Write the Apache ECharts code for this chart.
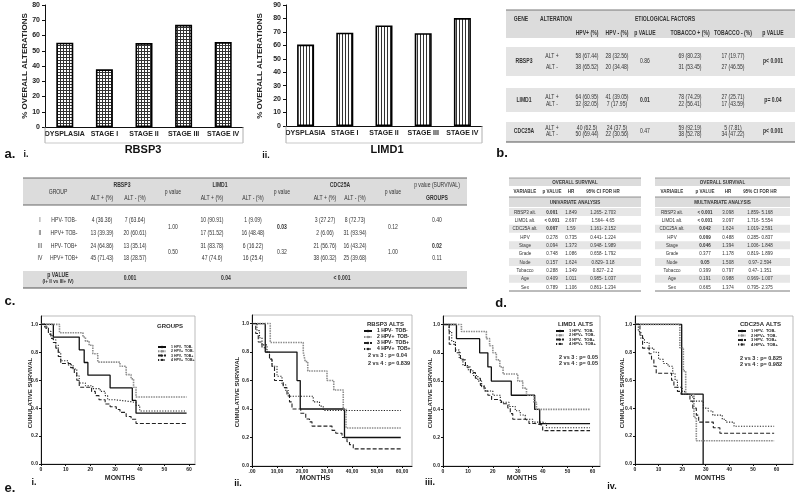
<!DOCTYPE html>
<html><head><meta charset="utf-8">
<script src="https://cdn.jsdelivr.net/npm/echarts@6/dist/echarts.min.js"></script>
<style>html,body{margin:0;padding:0;background:#fff}#c{width:795px;height:492px}</style>
</head><body><div id="c"></div>
<script>
// ---------- DATA ----------
const stageCategories = ['DYSPLASIA','STAGE I','STAGE II','STAGE III','STAGE IV'];
const rbsp3Alterations = [55.3, 37.8, 55, 67, 55.7];
const limd1Alterations = [60.6, 69.4, 74.8, 69, 80.3];

// table b
const bGenes = ['RBSP3','LIMD1','CDC25A'];
const bHpvPos = [['58 (67.44)','38 (65.52)'],['64 (60.95)','32 (82.05)'],['40 (62.5)','50 (69.44)']];
const bHpvNeg = [['28 (32.56)','20 (34.48)'],['41 (39.05)','7 (17.95)'],['24 (37.5)','22 (30.56)']];
const bHpvP = ['0.86','0.01','0.47'];
const bTobPos = [['69 (80.23)','31 (53.45)'],['78 (74.29)','22 (56.41)'],['59 (92.19)','38 (52.78)']];
const bTobNeg = [['17 (19.77)','27 (46.55)'],['27 (25.71)','17 (43.59)'],['5 (7.81)','34 (47.22)']];
const bTobP = ['p< 0.001','p= 0.04','p< 0.001'];

// table c
const cGroupNum = ['I','II','III','IV'];
const cGroupName = ['HPV- TOB-','HPV+ TOB-','HPV- TOB+','HPV+ TOB+'];
const cRbsp3 = [['4 (36.36)','7 (63.64)'],['13 (39.39)','20 (60.61)'],['24 (64.86)','13 (35.14)'],['45 (71.43)','18 (28.57)']];
const cLimd1 = [['10 (90.91)','1 (9.09)'],['17 (51.52)','16 (48.48)'],['31 (83.78)','6 (16.22)'],['47 (74.6)','16 (25.4)']];
const cCdc25a = [['3 (27.27)','8 (72.73)'],['2 (6.06)','31 (93.94)'],['21 (56.76)','16 (43.24)'],['38 (60.32)','25 (39.68)']];
const cPRbsp3 = ['1.00','0.50'];
const cPLimd1 = ['0.03','0.32'];
const cPCdc25a = ['0.12','1.00'];
const cSurvival = ['0.40','','0.02','0.11'];
const cOverallP = ['0.001','0.04','< 0.001'];

// table d
const dVariables = ['RBSP3 alt.','LIMD1 alt.','CDC25A alt.','HPV','Stage','Grade','Node','Tobacco','Age','Sex'];
const dUniP = ['0.001','< 0.001','0.007','0.278','0.094','0.748','0.157','0.288','0.409','0.789'];
const dUniHR = ['1.849','2.697','1.59','0.735','1.373','1.086','1.624','1.349','1.011','1.106'];
const dUniCI = ['1.265- 2.703','1.564- 4.65','1.161- 2.152','0.441- 1.224','0.948- 1.989','0.658- 1.792','0.829- 3.18','0.827- 2.2','0.985- 1.037','0.861- 1.234'];
const dUniBold = [1,1,1,0,0,0,0,0,0,0];
const dMultiP = ['< 0.001','< 0.001','0.042','0.009','0.046','0.377','0.05','0.399','0.191','0.665'];
const dMultiHR = ['3.098','3.097','1.624','0.488','1.394','1.178','1.508','0.797','0.988','1.374'];
const dMultiCI = ['1.859- 5.168','1.716- 5.554','1.019- 2.591','0.285- 0.837','1.006- 1.848','0.819- 1.899','0.97- 2.594','0.47- 1.351','0.969- 1.007','0.795- 2.375'];
const dMultiBold = [1,1,1,1,1,0,1,0,0,0];

// e: Kaplan-Meier curves [month, cumulative survival]
const kmNames = ['1 HPV-  TOB-','2 HPV+  TOB-','3 HPV-  TOB+','4 HPV+  TOB+'];
const kmGroups1 = [[0,1],[5,0.909],[15.5,0.818],[17.5,0.727],[19,0.636],[28,0.545],[37,0.455],[38.5,0.364],[59,0.364]];
const kmGroups2 = [[0,1],[7.5,0.94],[17,0.91],[18,0.88],[19.5,0.85],[21,0.79],[23,0.73],[32,0.70],[34.5,0.64],[36.5,0.61],[37.5,0.55],[38.5,0.48],[59,0.48]];
const kmGroups3 = [[0,1],[2,0.97],[3,0.93],[4,0.9],[5,0.87],[6,0.83],[7,0.77],[8,0.72],[12,0.69],[13.5,0.65],[14.5,0.6],[15.5,0.55],[20.5,0.52],[22,0.49],[23.5,0.46],[26,0.43],[28,0.41],[30.5,0.39],[32,0.37],[34.5,0.34],[36.5,0.32],[38.5,0.29],[59,0.29]];
const kmGroups4 = [[0,1],[1.5,0.98],[3,0.95],[4,0.92],[5,0.89],[6,0.85],[7,0.8],[8,0.74],[11,0.71],[13,0.68],[14.5,0.63],[15.5,0.58],[18,0.56],[21,0.54],[24,0.52],[26,0.49],[27,0.46],[30,0.45],[35,0.44],[38.5,0.42],[40,0.38],[59,0.38]];

const kmRbsp31 = [[0,1],[5.3,0.8],[18,0.6],[19.3,0.4],[37,0.2],[59.5,0.2]];
const kmRbsp32 = [[0,1],[7.3,0.867],[20.5,0.8],[21.3,0.733],[22.3,0.667],[30,0.6],[32.7,0.533],[36.5,0.4],[37.6,0.267],[59.5,0.267]];
const kmRbsp33 = [[0,1],[1.5,0.93],[2.5,0.87],[4,0.83],[5.5,0.8],[7,0.75],[8,0.7],[9,0.6],[12.5,0.55],[14,0.5],[15,0.45],[16,0.4],[19.5,0.37],[21.5,0.33],[23,0.31],[24,0.28],[32,0.25],[33.5,0.23],[36,0.2],[38,0.17],[39,0.15],[40.5,0.12],[59.5,0.12]];
const kmRbsp34 = [[0,1],[2,0.95],[3,0.9],[4,0.85],[6,0.8],[7,0.75],[8,0.7],[10,0.63],[12,0.57],[13.5,0.53],[14.5,0.49],[24.5,0.45],[27,0.42],[28.5,0.39],[59.5,0.39]];

const kmLimd11 = [[0,1],[5.4,0.9],[14.7,0.8],[18,0.7],[19.4,0.6],[27.4,0.5],[36.8,0.4],[38.8,0.3],[59,0.3]];
const kmLimd12 = [[0,1],[7.4,0.95],[17.4,0.9],[18.7,0.85],[20,0.8],[21.4,0.75],[22.8,0.7],[24.1,0.65],[30,0.6],[32,0.55],[33.5,0.5],[36.5,0.45],[37.5,0.4],[59,0.4]];
const kmLimd13 = [[0,1],[2.5,0.86],[5,0.8],[7,0.75],[9,0.7],[11,0.66],[13,0.62],[15,0.57],[16.5,0.53],[18,0.5],[19.5,0.47],[22,0.46],[23.5,0.44],[26,0.41],[27,0.37],[28,0.33],[33,0.32],[34.5,0.3],[37,0.29],[40,0.25],[59,0.25]];
const kmLimd14 = [[0,1],[2.4,0.95],[3.5,0.88],[5,0.82],[6.5,0.76],[8,0.71],[10,0.68],[12,0.64],[14,0.6],[15.5,0.56],[17,0.53],[20,0.5],[23,0.45],[26.5,0.42],[29,0.39],[31,0.36],[33,0.33],[36,0.31],[40,0.3],[41.5,0.27],[59,0.27]];

const kmCdc25a1 = [[0,1],[19.8,0.5],[28.9,0]];
const kmCdc25a2 = [[0,1],[19,0.833],[20.5,0.667],[21.5,0.5],[25,0.333],[26,0.167],[59,0.167]];
const kmCdc25a3 = [[0,1],[2.1,0.92],[3.2,0.83],[6,0.79],[7,0.75],[8,0.7],[9,0.65],[15.5,0.6],[16.5,0.55],[18,0.52],[19.5,0.5],[23.3,0.45],[24.5,0.4],[26,0.35],[27,0.3],[33.2,0.26],[36,0.22],[59,0.22]];
const kmCdc25a4 = [[0,1],[1.4,0.95],[2.5,0.9],[4,0.87],[6,0.83],[8,0.8],[10,0.75],[12,0.72],[14,0.7],[16,0.65],[17,0.6],[18,0.55],[20,0.52],[21,0.5],[24,0.48],[25,0.45],[29,0.4],[31,0.38],[33,0.35],[37,0.32],[38.5,0.3],[42,0.27],[59,0.27]];

// ---------- helpers ----------
const FN = '"Liberation Sans",Arial,sans-serif';
const FA = '"Liberation Sans",Arial,sans-serif';
function T(x, y, text, size, o) {
  o = o || {};
  const al = o.align || 'center';
  return {type:'text', x:x, y:y, rotation:o.rot||0, scaleX:o.sx||1, silent:true, z:5,
    style:{text:text, font:(o.bold?'bold ':'')+size+'px '+(o.family||FN), fill:o.fill||'#2a2a2a',
      align:al, verticalAlign:'middle', textAlign:al, textVerticalAlign:'middle'}};
}
// narrow table text (condensed look)
function N(x, y, text, size, o) { o = Object.assign({sx:0.78, fill:'#333'}, o||{}); return T(x, y, text, size, o); }
function R(x, y, w, h, fill) {
  return {type:'rect', silent:true, z:1, shape:{x:x,y:y,width:w,height:h}, style:{fill:fill}};
}
function L(x1, y1, x2, y2, stroke, w) {
  return {type:'line', silent:true, z:3, shape:{x1:x1,y1:y1,x2:x2,y2:y2}, style:{stroke:stroke||'#444', lineWidth:w||1}};
}
function pattern(kind) {
  const c = document.createElement('canvas');
  c.width = 3; c.height = 3;
  const g = c.getContext('2d');
  g.fillStyle = '#fff'; g.fillRect(0,0,3,3);
  g.fillStyle = '#333';
  if (kind === 'grid') { g.fillRect(0,0,3,1); g.fillRect(0,0,1,3); }
  else { g.fillRect(0,0,1,3); }
  return {image:c, repeat:'repeat'};
}

const G = [];
// ---------- panel a decorations ----------
G.push(T(25, 66, '% OVERALL ALTERATIONS', 8, {bold:1, family:FA, rot:Math.PI/2, fill:'#222'}));
G.push(T(260, 66, '% OVERALL ALTERATIONS', 8, {bold:1, family:FA, rot:Math.PI/2, fill:'#222'}));
G.push(L(45,127,45,143,'#999',0.8), L(243,127,243,143,'#999',0.8), L(45,143,243,143,'#bbb',0.8));
G.push(L(286,126,286,143,'#999',0.8), L(482,126,482,143,'#999',0.8), L(286,143,482,143,'#bbb',0.8));
G.push(T(143,150,'RBSP3',11,{bold:1,family:FA,fill:'#111'}));
G.push(T(387,150,'LIMD1',11,{bold:1,family:FA,fill:'#111'}));
G.push(T(10,154,'a.',13,{bold:1,family:FA,fill:'#111'}), T(26,155,'i.',9,{bold:1,family:FA,fill:'#111'}));
G.push(T(266,156,'ii.',9,{bold:1,family:FA,fill:'#111'}));

// ---------- table b ----------
(function(){
  const x0 = 506, x1 = 795;
  G.push(R(x0,10,x1-x0,28,'#dcdcdc'), L(x0,10,x1,10,'#777',1));
  const cols = [587,617,645,690,733,773];
  G.push(N(521,19,'GENE',6.5,{bold:1}), N(556,19,'ALTERATION',6.5,{bold:1}), N(665,19,'ETIOLOGICAL FACTORS',6.5,{bold:1}));
  ['HPV+ (%)','HPV - (%)','p VALUE','TOBACCO + (%)','TOBACCO - (%)','p VALUE'].forEach((h,i)=>G.push(N(cols[i],33,h,6.5,{bold:1})));
  const blocks = [[47,76,56,67],[88,112,97,104],[122,142,128,134.5]];
  blocks.forEach((b,k)=>{
    G.push(R(x0,b[0],x1-x0,b[1]-b[0],'#e4e4e4'));
    const mid = (b[2]+b[3])/2;
    G.push(N(524,mid,bGenes[k],6.5,{bold:1}));
    G.push(N(552,b[2],'ALT +',6.5), N(552,b[3],'ALT -',6.5));
    [0,1].forEach(r=>{
      const y = b[2+r];
      G.push(N(cols[0],y,bHpvPos[k][r],6.5), N(cols[1],y,bHpvNeg[k][r],6.5), N(cols[3],y,bTobPos[k][r],6.5), N(cols[4],y,bTobNeg[k][r],6.5));
    });
    G.push(N(cols[2],mid,bHpvP[k],6.5,{bold:k===1}), N(cols[5],mid,bTobP[k],6.5,{bold:1}));
  });
  G.push(L(x0,142,x1,142,'#555',1));
  G.push(T(502,153,'b.',13,{bold:1,family:FA,fill:'#111'}));
})();

// ---------- table c ----------
(function(){
  const x0 = 23, x1 = 467;
  G.push(R(x0,178,x1-x0,27,'#dcdcdc'), L(x0,178,x1,178,'#666',1), L(x0,205,x1,205,'#666',1));
  G.push(N(58,192,'GROUP',6.5), N(122,185,'RBSP3',6.5,{bold:1}), N(173,192,'p value',6.5), N(220,185,'LIMD1',6.5,{bold:1}),
         N(282,192,'p value',6.5), N(340,185,'CDC25A',6.5,{bold:1}), N(393,192,'p value',6.5), N(437,185,'p value (SURVIVAL)',6.5), N(437,198,'GROUPS',6.5,{bold:1}));
  const alt = [[102,135],[212,253],[325,355]];
  alt.forEach(a=>{ G.push(N(a[0],198,'ALT + (%)',6.5), N(a[1],198,'ALT - (%)',6.5)); });
  const ys = [220,233,246,258.5];
  const gen = [cRbsp3,cLimd1,cCdc25a];
  ys.forEach((y,i)=>{
    G.push(N(40,y,cGroupNum[i],6.5), N(64,y,cGroupName[i],6.5));
    gen.forEach((g,k)=>{ G.push(N(alt[k][0],y,g[i][0],6.5), N(alt[k][1],y,g[i][1],6.5)); });
    if (cSurvival[i]) G.push(N(437,y,cSurvival[i],6.5,{bold:i===2}));
  });
  const pv = [[173,cPRbsp3,[0,0]],[282,cPLimd1,[1,0]],[393,cPCdc25a,[0,0]]];
  pv.forEach(p=>{ G.push(N(p[0],227,p[1][0],6.5,{bold:p[2][0]}), N(p[0],252.5,p[1][1],6.5,{bold:p[2][1]})); });
  G.push(R(x0,271,x1-x0,17,'#dcdcdc'), L(x0,288,x1,288,'#555',1));
  G.push(N(58,275,'p VALUE',6.5,{bold:1}), N(58,281,'(I+ II vs III+ IV)',6,{bold:1}));
  G.push(N(130,278,cOverallP[0],6.5,{bold:1}), N(226,278,cOverallP[1],6.5,{bold:1}), N(342,278,cOverallP[2],6.5,{bold:1}));
  G.push(T(10,301,'c.',13,{bold:1,family:FA,fill:'#111'}));
})();

// ---------- tables d ----------
function dTable(x0, x1, cx, title, P, HR, CI, B) {
  const mid = (x0+x1)/2;
  G.push(R(x0,178,x1-x0,8,'#dcdcdc'), L(x0,178,x1,178,'#888',0.8));
  G.push(N(mid,182,'OVERALL SURVIVAL',5.8,{bold:1}));
  G.push(N(cx[0],191.5,'VARIABLE',5.8,{bold:1}), N(cx[1],191.5,'p VALUE',5.8,{bold:1}), N(cx[2],191.5,'HR',5.8,{bold:1}), N(cx[3],191.5,'95% CI FOR HR',5.8,{bold:1}));
  G.push(L(x0,197,x1,197,'#777',0.8), R(x0,197,x1-x0,10,'#dcdcdc'));
  G.push(N(mid,202,title,5.8,{bold:1}));
  dVariables.forEach((v,i)=>{
    const y = 212 + i*8.33;
    if (i%2===0) G.push(R(x0,y-4,x1-x0,8,'#e6e6e6'));
    G.push(N(cx[0],y,v,5.8), N(cx[1],y,P[i],5.8,{bold:B[i]}), N(cx[2],y,HR[i],5.8), N(cx[3],y,CI[i],5.8));
  });
  G.push(L(x0,291,x1,291,'#555',0.8));
}
dTable(509, 641, [525,552,571,603], 'UNIVARIATE ANALYSIS', dUniP, dUniHR, dUniCI, dUniBold);
dTable(655, 790, [672,705,728,760], 'MULTIVARIATE ANALYSIS', dMultiP, dMultiHR, dMultiCI, dMultiBold);
G.push(T(501,303,'d.',13,{bold:1,family:FA,fill:'#111'}));

// ---------- panel e decorations ----------
const yNames = [[30,393],[237,392],[430,393],[622,393]];
yNames.forEach(p=>G.push(T(p[0],p[1],'CUMULATIVE SURVIVAL',6,{bold:1,family:FA,rot:Math.PI/2})));
[[120,478],[315,478],[522,478],[710,478]].forEach(p=>G.push(T(p[0],p[1],'MONTHS',7,{bold:1,family:FA})));
G.push(T(170,326,'GROUPS',6,{bold:1,family:FA}));
G.push(T(367,324,'RBSP3 ALTS',6,{bold:1,family:FA,align:'left'}));
G.push(T(558,324,'LIMD1 ALTS',6,{bold:1,family:FA,align:'left'}));
G.push(T(740,324,'CDC25A ALTS',6,{bold:1,family:FA,align:'left'}));
G.push(T(368,355,'2 vs 3 : p= 0.04',5.5,{bold:1,family:FA,align:'left'}), T(368,363,'2 vs 4 : p= 0.839',5.5,{bold:1,family:FA,align:'left'}));
G.push(T(559,357,'2 vs 3 : p= 0.05',5.5,{bold:1,family:FA,align:'left'}), T(559,363,'2 vs 4 : p= 0.05',5.5,{bold:1,family:FA,align:'left'}));
G.push(T(740,358,'2 vs 3 : p= 0.825',5.5,{bold:1,family:FA,align:'left'}), T(740,364,'2 vs 4 : p= 0.982',5.5,{bold:1,family:FA,align:'left'}));
G.push(T(10,488,'e.',13,{bold:1,family:FA,fill:'#111'}));
G.push(T(34,483,'i.',9,{bold:1,family:FA,fill:'#111'}), T(238,484,'ii.',9,{bold:1,family:FA,fill:'#111'}), T(430,483,'iii.',9,{bold:1,family:FA,fill:'#111'}), T(612,487,'iv.',9,{bold:1,family:FA,fill:'#111'}));

// ---------- chart ----------
const chart = echarts.init(document.getElementById('c'), null, {renderer:'canvas'});
const barAxisLabel = {fontSize:7, fontWeight:'bold', color:'#222', fontFamily:FA, margin:4, interval:0};
const kmGrids = [
  {left:41, top:316, width:154, height:148, max:62.4, fmt:v=>String(v)},
  {left:252, top:315, width:160, height:151, max:64, fmt:v=>v===0?'.00':v+',00'},
  {left:443, top:316, width:157, height:150, max:63, fmt:v=>String(v)},
  {left:635, top:316, width:158, height:148, max:67, fmt:v=>String(v)}
];
const kmSets = [
  [kmGroups1,kmGroups2,kmGroups3,kmGroups4],
  [kmRbsp31,kmRbsp32,kmRbsp33,kmRbsp34],
  [kmLimd11,kmLimd12,kmLimd13,kmLimd14],
  [kmCdc25a1,kmCdc25a2,kmCdc25a3,kmCdc25a4]
];
const kmStyles = [
  {color:'#111', width:1.3, type:'solid'},
  {color:'#8c8c8c', width:1.6, type:[1.5,1]},
  {color:'#222', width:1.1, type:[4,2]},
  {color:'#222', width:1.1, type:[1.2,1.5]}
];
const grids = [
  {left:45, top:5, width:198, height:122},
  {left:286, top:5, width:196, height:121}
].concat(kmGrids.map(g=>({left:g.left, top:g.top, width:g.width, height:g.height, show:true, borderColor:'#aaa', borderWidth:0.8})));

const xAxes = [
  {type:'category', gridIndex:0, data:stageCategories, axisLine:{lineStyle:{color:'#111',width:1}}, axisTick:{show:false}, axisLabel:barAxisLabel},
  {type:'category', gridIndex:1, data:stageCategories, axisLine:{lineStyle:{color:'#111',width:1}}, axisTick:{show:false}, axisLabel:barAxisLabel}
];
const yAxes = [
  {type:'value', gridIndex:0, min:0, max:80, interval:10, axisLine:{show:true,lineStyle:{color:'#111'}}, axisTick:{show:true,length:3,lineStyle:{color:'#111'}}, splitLine:{show:false}, axisLabel:{fontSize:7,fontWeight:'bold',color:'#222',fontFamily:FA,margin:5}},
  {type:'value', gridIndex:1, min:0, max:90, interval:10, axisLine:{show:true,lineStyle:{color:'#111'}}, axisTick:{show:true,length:3,lineStyle:{color:'#111'}}, splitLine:{show:false}, axisLabel:{fontSize:7,fontWeight:'bold',color:'#222',fontFamily:FA,margin:5}}
];
kmGrids.forEach((g,i)=>{
  xAxes.push({type:'value', gridIndex:i+2, min:0, max:g.max, interval:10, axisLine:{show:true,onZero:false,lineStyle:{color:'#111',width:1}}, axisTick:{length:2,lineStyle:{color:'#111'}}, splitLine:{show:false},
    axisLabel:{fontSize:5,fontWeight:'bold',color:'#222',fontFamily:FA,margin:3,showMaxLabel:false,formatter:g.fmt}});
  yAxes.push({type:'value', gridIndex:i+2, min:0, max:1.06, interval:0.2, axisLine:{show:true,lineStyle:{color:'#111',width:1}}, axisTick:{length:2,lineStyle:{color:'#111'}}, splitLine:{show:false},
    axisLabel:{fontSize:5,fontWeight:'bold',color:'#222',fontFamily:FA,margin:3,showMaxLabel:false,formatter:v=>v.toFixed(1)}});
});

const series = [
  {type:'bar', xAxisIndex:0, yAxisIndex:0, data:rbsp3Alterations, barWidth:17, itemStyle:{color:pattern('grid'), borderColor:'#000', borderWidth:1.6}, silent:true},
  {type:'bar', xAxisIndex:1, yAxisIndex:1, data:limd1Alterations, barWidth:17, itemStyle:{color:pattern('vert'), borderColor:'#000', borderWidth:1.6}, silent:true}
];
kmSets.forEach((set,gi)=>{
  set.forEach((d,k)=>{
    series.push({type:'line', name:kmNames[k], xAxisIndex:gi+2, yAxisIndex:gi+2, data:d, step:'end', symbol:'none', silent:true, animation:false,
      lineStyle:{color:kmStyles[k].color, width:kmStyles[k].width, type:kmStyles[k].type}, itemStyle:{color:kmStyles[k].color}});
  });
});

const legendBase = {data:kmNames, orient:'vertical', selectedMode:false, padding:0, itemWidth:8, itemHeight:3};
const legends = [
  Object.assign({}, legendBase, {left:157, top:345, itemGap:0.3, textStyle:{fontSize:3.5,fontWeight:'bold',color:'#222',fontFamily:FA}}),
  Object.assign({}, legendBase, {left:363, top:328.5, itemGap:1, textStyle:{fontSize:5,fontWeight:'bold',color:'#222',fontFamily:FA}}),
  Object.assign({}, legendBase, {left:555, top:329, itemGap:0.3, textStyle:{fontSize:4,fontWeight:'bold',color:'#222',fontFamily:FA}}),
  Object.assign({}, legendBase, {left:737, top:329, itemGap:0.5, textStyle:{fontSize:4,fontWeight:'bold',color:'#222',fontFamily:FA}})
];

chart.setOption({
  animation:false,
  backgroundColor:'#fff',
  grid:grids, xAxis:xAxes, yAxis:yAxes, series:series, legend:legends,
  graphic:{elements:G}
});
</script></body></html>
